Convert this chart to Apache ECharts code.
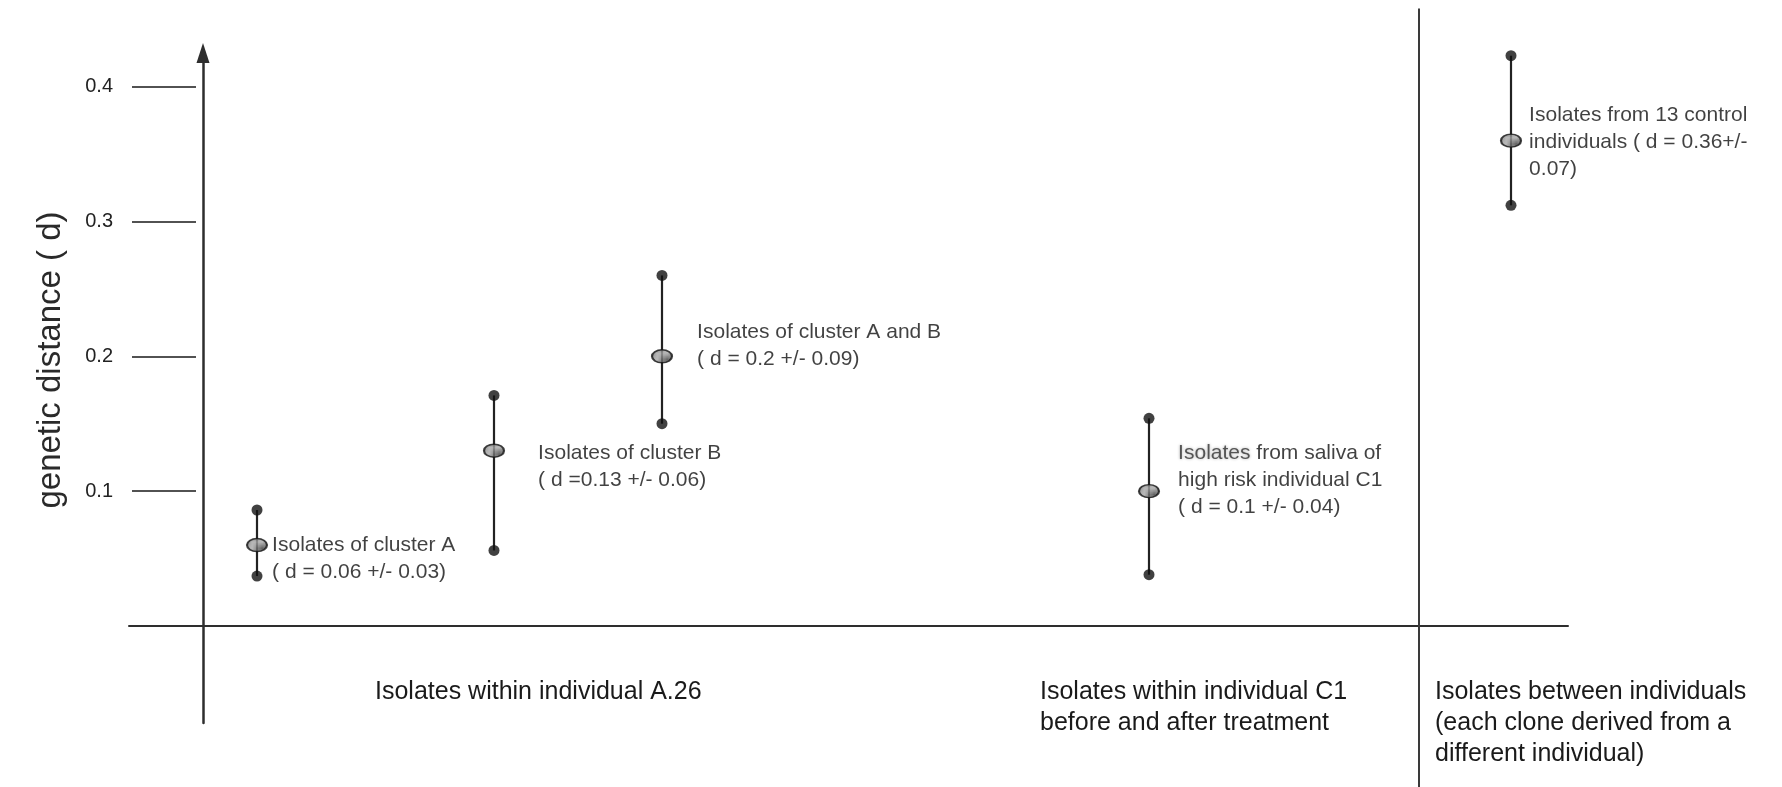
<!DOCTYPE html>
<html>
<head>
<meta charset="utf-8">
<script src="https://cdn.jsdelivr.net/npm/echarts@6/dist/echarts.min.js"></script>
<style>
  html, body { margin: 0; padding: 0; background: #ffffff; }
  #chart { width: 1782px; height: 787px; }
</style>
</head>
<body>
<div id="chart"></div>
<script>
// Genetic distance (d) of isolates: mean marker with min/max whiskers per group
const groupNames = [
  'Isolates of cluster A',
  'Isolates of cluster B',
  'Isolates of cluster A and B',
  'Isolates from saliva of high risk individual C1',
  'Isolates from 13 control individuals'
];
const slotX = [0.54, 2.91, 4.59, 9.46, 13.08];     // horizontal slot of each group
const meanD = [0.06, 0.13, 0.2, 0.1, 0.36];
const sdD   = [0.03, 0.06, 0.09, 0.04, 0.07];
const lowD  = [0.037, 0.056, 0.15, 0.038, 0.312];
const highD = [0.086, 0.171, 0.26, 0.154, 0.423];
const noteTexts = [
  'Isolates of cluster A\n( d = 0.06 +/- 0.03)',
  'Isolates of cluster B\n( d =0.13 +/- 0.06)',
  'Isolates of cluster A and B\n( d = 0.2 +/- 0.09)',
  '{hl|Isolates} from saliva of\nhigh risk individual C1\n( d = 0.1 +/- 0.04)',
  'Isolates from 13 control\nindividuals ( d = 0.36+/-\n0.07)'
];
const sectionX = [1.72, 8.37, 12.32];
const sectionLabels = [
  'Isolates within individual A.26',
  'Isolates within individual C1\nbefore and after treatment',
  'Isolates between individuals\n(each clone derived from a\ndifferent individual)'
];
const yTickValues = [0.1, 0.2, 0.3, 0.4];
const dividerX = 12.16;

// layout of the note beside each marker: [dx, dy] in pixels
const noteOffsets = [[4, 14], [33, 16], [24, -11], [18, -11], [7, 2]];

const FONT = "'Liberation Sans', Arial, Helvetica, sans-serif";

function dotPattern() {
  const c = document.createElement('canvas');
  c.width = 3; c.height = 3;
  const g = c.getContext('2d');
  g.fillStyle = '#a6a6a6';
  g.fillRect(0, 0, 3, 3);
  g.fillStyle = '#3a3a3a';
  g.fillRect(0, 0, 1, 1);
  g.fillRect(2, 1, 1, 1);
  g.fillRect(1, 2, 1, 1);
  return c;
}

const chart = echarts.init(document.getElementById('chart'), null, { renderer: 'canvas' });

const yMin = -0.072, yMax = 0.425;

const option = {
  backgroundColor: '#ffffff',
  animation: false,
  grid: { left: 129, right: 214, top: 53, bottom: 64, outerBoundsMode: 'none', containLabel: false },
  xAxis: {
    type: 'value',
    min: -0.74,
    max: 13.65,
    axisLine: { show: true, onZero: true, lineStyle: { color: '#2e2e2e', width: 2 } },
    axisTick: { show: false },
    splitLine: { show: false },
    axisLabel: {
      show: true,
      customValues: sectionX,
      formatter: function (v) {
        let best = 0;
        sectionX.forEach(function (s, i) { if (Math.abs(s - v) < Math.abs(sectionX[best] - v)) best = i; });
        return sectionLabels[best];
      },
      align: 'left',
      verticalAlign: 'top',
      margin: -46,
      fontFamily: FONT,
      fontSize: 25,
      lineHeight: 31,
      color: '#1a1a1a'
    }
  },
  yAxis: [
    {
      type: 'value',
      min: yMin,
      max: yMax,
      position: 'left',
      axisLine: {
        show: true, onZero: true,
        symbol: ['none', 'triangle'], symbolSize: [13, 20],
        lineStyle: { color: '#2e2e2e', width: 2.5 }
      },
      axisTick: { show: false },
      axisLabel: { show: false },
      splitLine: { show: false }
    },
    {
      type: 'value',
      min: yMin,
      max: yMax,
      position: 'left',
      offset: -3,
      name: 'genetic distance ( d)',
      nameLocation: 'middle',
      nameRotate: 90,
      nameGap: 65,
      nameTextStyle: { fontFamily: FONT, fontSize: 33, color: '#2a2a2a', padding: [0, 0, 0, 56] },
      axisLine: { show: false, onZero: false },
      axisTick: {
        show: true, inside: true, length: 64,
        customValues: yTickValues,
        lineStyle: { color: '#1a1a1a', width: 1.5 }
      },
      axisLabel: {
        show: true,
        customValues: yTickValues,
        margin: 19,
        fontFamily: FONT, fontSize: 20, color: '#222',
        formatter: function (v) { return String(Math.round(v * 10) / 10); }
      },
      splitLine: { show: false }
    }
  ],
  series: [
    {
      // divider between within-individual and between-individual groups
      type: 'custom',
      clip: false,
      silent: true,
      data: [[dividerX]],
      renderItem: function (params, api) {
        const a = api.coord([api.value(0), 0.458]);
        const b = api.coord([api.value(0), -0.12]);
        return {
          type: 'line',
          shape: { x1: a[0], y1: a[1], x2: b[0], y2: b[1] },
          style: { stroke: '#3a3a3a', lineWidth: 2 }
        };
      }
    },
    {
      // whisker from low to high
      type: 'custom',
      silent: true,
      data: slotX.map(function (x, i) { return [x, lowD[i], highD[i]]; }),
      encode: { x: 0, y: [1, 2] },
      renderItem: function (params, api) {
        const top = api.coord([api.value(0), api.value(2)]);
        const bot = api.coord([api.value(0), api.value(1)]);
        return {
          type: 'line',
          shape: { x1: top[0], y1: top[1], x2: bot[0], y2: bot[1] },
          style: { stroke: '#222', lineWidth: 2.2 }
        };
      }
    },
    {
      // whisker end points
      type: 'scatter',
      silent: true,
      symbol: 'circle',
      symbolSize: 11,
      itemStyle: { color: '#111' },
      data: slotX.map(function (x, i) { return [x, lowD[i]]; })
        .concat(slotX.map(function (x, i) { return [x, highD[i]]; }))
    },
    {
      // group mean with its note
      type: 'scatter',
      silent: true,
      symbol: 'circle',
      symbolSize: [20, 13],
      z: 5,
      itemStyle: {
        color: { image: dotPattern(), repeat: 'repeat' },
        borderColor: '#111',
        borderWidth: 1.8
      },
      data: slotX.map(function (x, i) {
        return {
          name: groupNames[i],
          value: [x, meanD[i], sdD[i]],
          label: {
            show: true,
            position: 'right',
            distance: 0,
            offset: noteOffsets[i],
            formatter: noteTexts[i],
            fontFamily: FONT,
            fontSize: 21,
            lineHeight: 27,
            color: '#111',
            align: 'left',
            rich: {
              hl: {
                fontFamily: FONT, fontSize: 21, lineHeight: 27,
                color: '#333',
                textShadowColor: 'rgba(0,0,0,0.4)',
                textShadowBlur: 3
              }
            }
          }
        };
      })
    }
  ]
};

chart.setOption(option);
</script>
</body>
</html>
